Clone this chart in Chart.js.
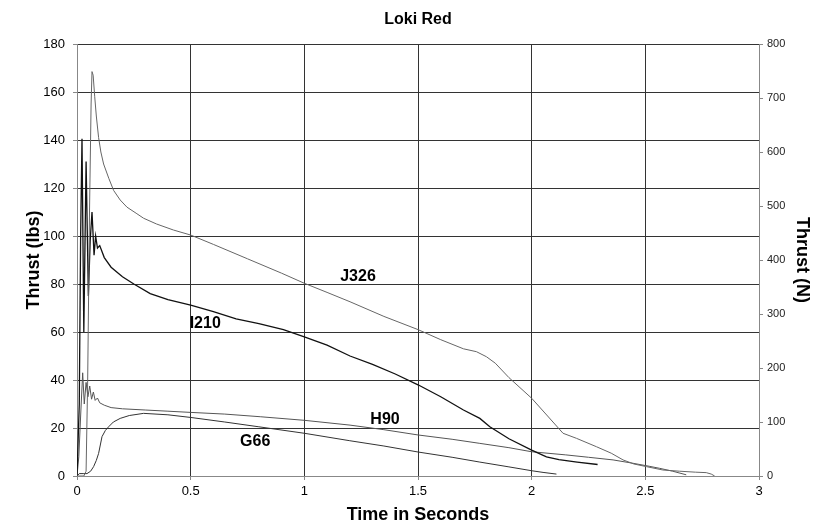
<!DOCTYPE html>
<html>
<head>
<meta charset="utf-8">
<script src="https://cdn.jsdelivr.net/npm/chart.js@4/dist/chart.umd.min.js"></script>
<style>
  html, body { margin: 0; padding: 0; background: #fff; }
  #wrap { width: 825px; height: 526px; }
</style>
</head>
<body>
<div id="wrap"><canvas id="chartOne" width="825" height="526"></canvas></div>
<script>
// time in seconds / thrust in lbs
const j326Time = [0, 0.03, 0.04, 0.047, 0.055, 0.062, 0.066, 0.071, 0.078, 0.085, 0.095, 0.105, 0.117, 0.14, 0.161, 0.19, 0.22, 0.26, 0.293, 0.35, 0.424, 0.5, 0.6, 0.75, 0.9, 1.0, 1.1, 1.201, 1.35, 1.5, 1.6, 1.7, 1.757, 1.801, 1.84, 1.9, 2.0, 2.07, 2.138, 2.197, 2.285, 2.35, 2.402, 2.45, 2.505, 2.577, 2.65, 2.72, 2.768, 2.79, 2.805];
const j326Lbs = [0, 0, 2, 40, 110, 155, 168.5, 167, 158, 150, 141, 135, 130, 124, 119, 115, 112, 109.5, 107.4, 105, 102.5, 100.4, 96.5, 90.5, 84.5, 80.3, 76.5, 72.6, 66.5, 61, 56.8, 53, 51.8, 49.7, 47, 41, 32.4, 25, 17.8, 15.7, 12.2, 9.5, 6.7, 5, 3.9, 2.5, 2, 1.6, 1.4, 0.8, 0];

const i210Time = [0, 0.01, 0.016, 0.022, 0.03, 0.04, 0.05, 0.058, 0.066, 0.075, 0.082, 0.09, 0.1, 0.12, 0.15, 0.2, 0.25, 0.322, 0.4, 0.5, 0.6, 0.7, 0.8, 0.908, 1.0, 1.1, 1.201, 1.3, 1.4, 1.5, 1.6, 1.7, 1.772, 1.816, 1.9, 2.0, 2.065, 2.12, 2.2, 2.29];
const i210Lbs = [0, 30, 100, 140.5, 60, 131, 75, 98, 110, 92, 100, 95, 96, 91, 87, 83, 80, 76, 73.5, 71.2, 68.5, 65.5, 63.5, 61, 58, 54.5, 50, 46.5, 42.5, 38, 33, 27.5, 24, 20.5, 15.5, 10.8, 8, 6.8, 5.8, 4.8];

const h90Time = [0, 0.008, 0.016, 0.025, 0.032, 0.04, 0.048, 0.056, 0.064, 0.072, 0.08, 0.09, 0.1, 0.12, 0.15, 0.2, 0.3, 0.4, 0.5, 0.65, 0.806, 1.0, 1.201, 1.35, 1.5, 1.65, 1.772, 1.9, 2.0, 2.15, 2.25, 2.358, 2.446, 2.52, 2.563, 2.62, 2.68];
const h90Lbs = [0, 8, 25, 43, 30, 39, 33, 37.5, 32, 35, 31.5, 32.5, 30.5, 29.5, 28.5, 28, 27.5, 27, 26.5, 25.8, 24.7, 23.2, 21.2, 19.3, 17.1, 15.3, 13.6, 11.8, 10.1, 8.8, 7.8, 6.7, 5.3, 4, 3.2, 2, 0.5];

const g66Time = [0, 0.01, 0.03, 0.044, 0.06, 0.073, 0.085, 0.095, 0.11, 0.125, 0.139, 0.16, 0.19, 0.23, 0.293, 0.4, 0.5, 0.65, 0.8, 1.0, 1.2, 1.35, 1.5, 1.65, 1.772, 1.9, 2.0, 2.05, 2.109];
const g66Lbs = [0, 1, 1, 1, 2, 3.9, 6.5, 9.4, 16.4, 19, 20.5, 22.5, 24, 25.2, 26.1, 25.5, 24.4, 22.5, 20.5, 17.8, 14.7, 12.5, 10, 7.8, 5.8, 3.8, 2.2, 1.5, 0.8];

const motorNames = ['J326', 'I210', 'H90', 'G66'];
// where each motor name sits (time, lbs)
const labelTime = [1.236, 0.564, 1.355, 0.784];
const labelLbs = [83, 63.5, 23.5, 14.2];

const xTicks = [0, 0.5, 1, 1.5, 2, 2.5, 3];

function pts(t, f) {
  return t.map((v, i) => ({x: v, y: f[i]}));
}

const FONT = '"Liberation Sans", Arial, sans-serif';
Chart.defaults.font.family = FONT;
Chart.defaults.color = '#000';

const motorLabels = {
  id: 'motorLabels',
  afterDatasetsDraw(chart) {
    const {ctx, scales} = chart;
    ctx.save();
    ctx.font = 'bold 16px ' + FONT;
    ctx.fillStyle = '#000';
    ctx.textAlign = 'center';
    ctx.textBaseline = 'middle';
    motorNames.forEach((n, i) => {
      ctx.fillText(n, scales.x.getPixelForValue(labelTime[i]), scales.y.getPixelForValue(labelLbs[i]));
    });
    ctx.font = 'bold 16px ' + FONT;
    ctx.fillText('Loki Red', (chart.chartArea.left + chart.chartArea.right) / 2, 20);
    ctx.restore();
  }
};

let thrustChart = new Chart(document.getElementById('chartOne').getContext('2d'), {
  type: 'scatter',
  data: {
    datasets: [
      {label: 'J326', data: pts(j326Time, j326Lbs), borderColor: '#666', borderWidth: 1},
      {label: 'I210', data: pts(i210Time, i210Lbs), borderColor: '#111', borderWidth: 1.3},
      {label: 'H90', data: pts(h90Time, h90Lbs), borderColor: '#555', borderWidth: 1},
      {label: 'G66', data: pts(g66Time, g66Lbs), borderColor: '#333', borderWidth: 1}
    ].map(d => Object.assign(d, {showLine: true, pointRadius: 0, tension: 0, fill: false}))
  },
  options: {
    responsive: false,
    animation: false,
    layout: {padding: {top: 44, left: 0, right: 0, bottom: 0}},
    plugins: {legend: {display: false}, tooltip: {enabled: false}},
    scales: {
      x: {
        type: 'linear', min: 0, max: 3,
        afterBuildTicks: s => { s.ticks = xTicks.map(v => ({value: v})); },
        afterFit: s => { s.height = 50; },
        grid: {color: '#333', tickLength: 4, tickColor: '#888'},
        border: {color: '#888'},
        ticks: {font: {size: 13}, padding: 4, maxRotation: 0, callback: v => String(v)},
        title: {display: true, text: 'Time in Seconds', font: {size: 18, weight: 'bold'}, padding: {top: 0, bottom: 0}}
      },
      y: {
        position: 'left', min: 0, max: 180,
        afterFit: s => { s.width = 77; },
        grid: {color: '#333', tickLength: 4, tickColor: '#888'},
        border: {color: '#888'},
        ticks: {stepSize: 20, font: {size: 13}, padding: 8},
        title: {display: true, text: 'Thrust (lbs)', font: {size: 18, weight: 'bold'}, padding: {top: 23, bottom: 0}}
      },
      y2: {
        position: 'right', min: 0, max: 800,
        afterFit: s => { s.width = 66; },
        grid: {drawOnChartArea: false, tickLength: 4, color: '#888'},
        border: {color: '#888'},
        ticks: {stepSize: 100, font: {size: 11}, color: '#222', padding: 4},
        title: {display: true, text: 'Thrust (N)', font: {size: 18, weight: 'bold'}, padding: {top: 12, bottom: 0}}
      }
    }
  },
  plugins: [motorLabels]
});
</script>
</body>
</html>
